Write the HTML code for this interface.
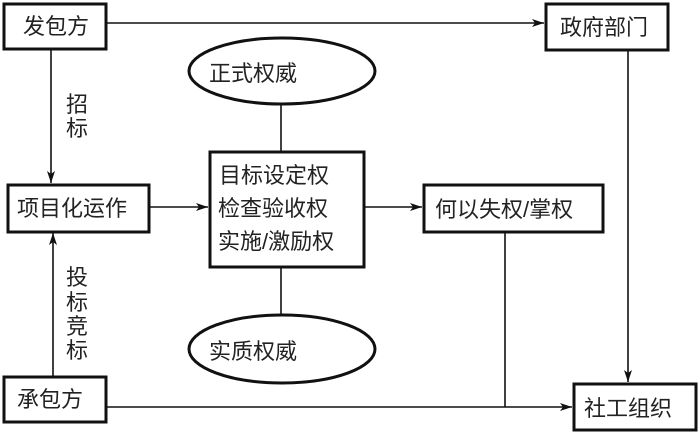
<!DOCTYPE html>
<html><head><meta charset="utf-8"><style>
html,body{margin:0;padding:0;background:#fff;}
svg{display:block;}
text{font-family:"Liberation Sans","Noto Sans CJK SC",sans-serif;fill:#222;font-size:22px;}
</style></head><body>
<svg width="700" height="434" viewBox="0 0 700 434" xmlns="http://www.w3.org/2000/svg">
<defs>
<marker id="a" viewBox="0 0 12 8" refX="12" refY="4" markerWidth="12" markerHeight="8" markerUnits="userSpaceOnUse" orient="auto">
<path d="M0,0 L12,4 L0,8 L3,4 Z" fill="#111"/>
</marker>
</defs>
<g stroke="#111" stroke-width="1.6" fill="none">
<line x1="106" y1="23" x2="544" y2="23" marker-end="url(#a)"/>
<line x1="51" y1="49" x2="51" y2="183" marker-end="url(#a)"/>
<line x1="53" y1="376" x2="53" y2="233" marker-end="url(#a)"/>
<line x1="149" y1="207" x2="208" y2="207" marker-end="url(#a)"/>
<line x1="364" y1="207" x2="422" y2="207" marker-end="url(#a)"/>
<line x1="628" y1="50" x2="628" y2="382" marker-end="url(#a)"/>
<line x1="106" y1="407" x2="572" y2="407" marker-end="url(#a)"/>
<line x1="505" y1="232" x2="505" y2="407"/>
<line x1="281" y1="104" x2="281" y2="151"/>
<line x1="281" y1="267" x2="281" y2="315"/>
</g>
<g stroke="#111" stroke-width="3" fill="#fff">
<rect x="4" y="4" width="102" height="45"/>
<rect x="8" y="185" width="141" height="47"/>
<rect x="4" y="377" width="102" height="45"/>
<rect x="210" y="152" width="154" height="115"/>
<rect x="546" y="4" width="122" height="46"/>
<rect x="424" y="185" width="179" height="47"/>
<rect x="574" y="384" width="122" height="46"/>
<ellipse cx="282" cy="71" rx="93" ry="33"/>
<ellipse cx="282" cy="349" rx="93" ry="34"/>
</g>
<text x="23" y="34">发包方</text>
<text x="17" y="216">项目化运作</text>
<text x="17" y="407">承包方</text>
<text x="209" y="81">正式权威</text>
<text x="209" y="359">实质权威</text>
<text x="560" y="35">政府部门</text>
<text x="435" y="217">何以失权/掌权</text>
<text x="584" y="416">社工组织</text>
<g style="font-size:23px">
<text x="219" y="183">目标设定权</text>
<text x="218" y="216">检查验收权</text>
<text x="218" y="249">实施/激励权</text>
</g>
<text x="66" y="112">招</text>
<text x="66" y="136">标</text>
<text x="66" y="285">投</text>
<text x="66" y="310">标</text>
<text x="66" y="334">竞</text>
<text x="66" y="358">标</text>
</svg>
</body></html>
